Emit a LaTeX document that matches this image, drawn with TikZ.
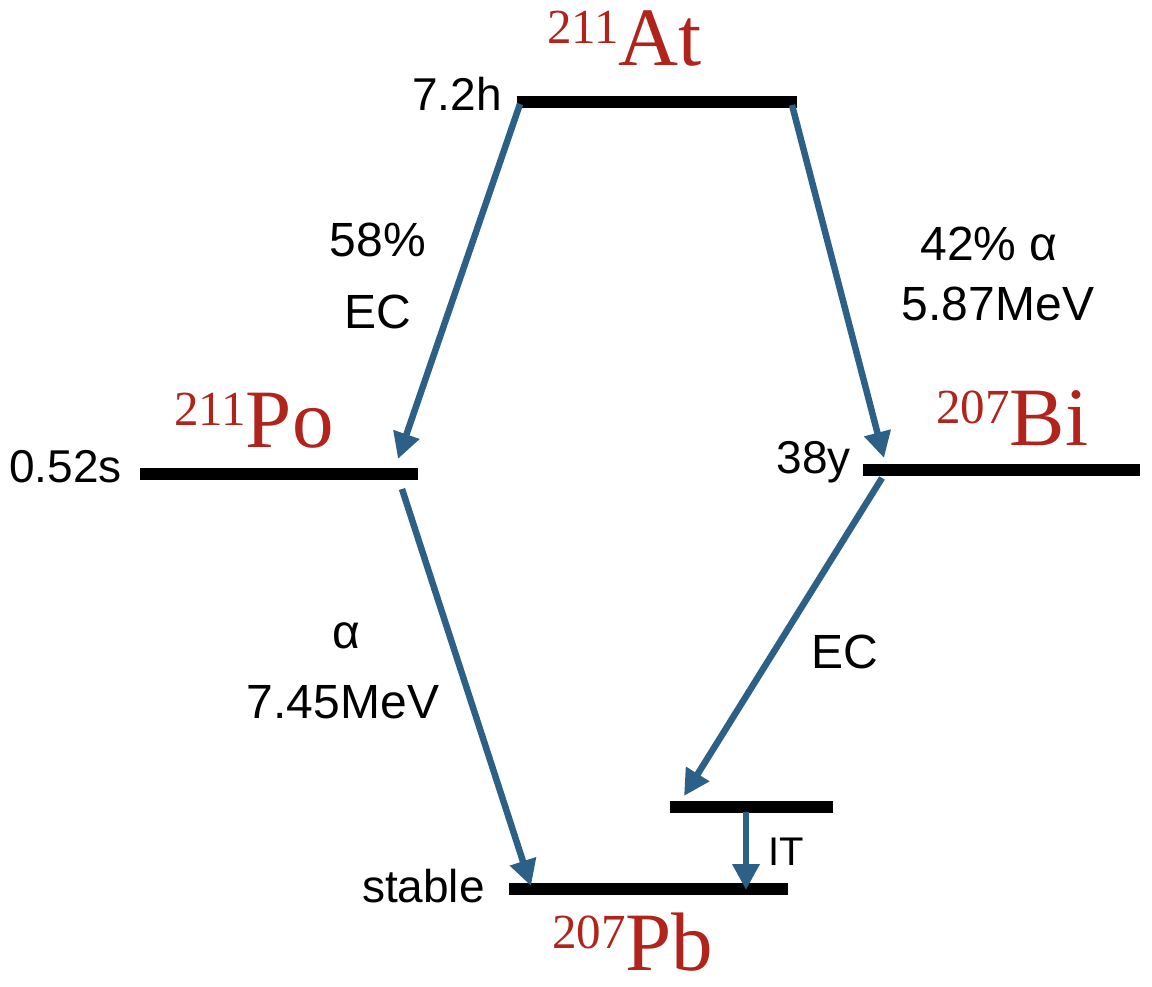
\documentclass[tikz,border=0pt]{standalone}
\usepackage{fontspec}
\setmainfont{Liberation Sans}
\newfontfamily\isofont{Liberation Serif}
\usetikzlibrary{arrows.meta}
\definecolor{arrblue}{RGB}{44,96,134}
\definecolor{isored}{RGB}{176,36,28}
\newcommand{\isotope}[2]{{\isofont\color{isored}\raisebox{22pt}{\fontsize{49}{49}\selectfont #1}\fontsize{83}{83}\selectfont #2}}
\begin{document}
\begin{tikzpicture}[x=1pt,y=-1pt,
  level/.style={line width=11.5pt},
  decay/.style={arrblue,line width=6.5pt,-{Triangle[length=26pt,width=26pt]}},
  lbl/.style={inner sep=0pt,font=\fontsize{48}{48}\selectfont,anchor=base},
  half/.style={inner sep=0pt,font=\fontsize{46}{46}\selectfont,anchor=base east},
  iso/.style={inner sep=0pt,anchor=base west}]
\useasboundingbox (0,0) rectangle (1152,987);

% level end points
\coordinate (atL) at (517,102);  \coordinate (atR) at (797,102);
\coordinate (poL) at (140,474);  \coordinate (poR) at (418,474);
\coordinate (biL) at (863,470);  \coordinate (biR) at (1140,470);
\coordinate (pmL) at (670,807);  \coordinate (pmR) at (833,807);
\coordinate (pbL) at (509,889);  \coordinate (pbR) at (788,889);

% arrow ends
\coordinate (a1s) at (520,104); \coordinate (a1e) at (398,459);
\coordinate (a2s) at (792,105); \coordinate (a2e) at (884,458);
\coordinate (a3s) at (402,489); \coordinate (a3e) at (531,886);
\coordinate (a4s) at (882,478); \coordinate (a4e) at (684,796);
\coordinate (a5s) at (746,812); \coordinate (a5e) at (746,890);

% levels
\draw[level] (atL) -- (atR);
\draw[level] (poL) -- (poR);
\draw[level] (biL) -- (biR);
\draw[level] (pmL) -- (pmR);
\draw[level] (pbL) -- (pbR);

% decays
\draw[decay] (a1s) -- (a1e);
\draw[decay] (a2s) -- (a2e);
\draw[decay] (a3s) -- (a3e);
\draw[decay] (a4s) -- (a4e);
\draw[decay] (a5s) -- (a5e);

% isotope names
\node[iso] (at) at (547,66) {\isotope{211}{At}};
\node[iso] (po) at (174,447) {\isotope{211}{Po}};
\node[iso] (bi) at (936,445) {\isotope{207}{Bi}};
\node[iso] (pb) at (552,970) {\isotope{207}{Pb}};

% half-lives
\node[half] (tat) at (502,111) {7.2h};
\node[half] (tpo) at (122,482) {0.52s};
\node[half] (tbi) at (851,473) {38y};
\node[half] (tpb) at (485,902) {stable};

% decay labels
\node[lbl] (l1a) at (378,257) {58\%};
\node[lbl] (l1b) at (378,328) {EC};
\node[lbl] (l2a) at (989,261) {42\% α};
\node[lbl] (l2b) at (998,320) {5.87MeV};
\node[lbl] (l3a) at (346,648) {α};
\node[lbl] (l3b) at (343,718) {7.45MeV};
\node[lbl] (l4) at (845,668) {EC};
\node[lbl,font=\fontsize{40}{40}\selectfont] (l5) at (786,865) {IT};
\end{tikzpicture}
\end{document}
